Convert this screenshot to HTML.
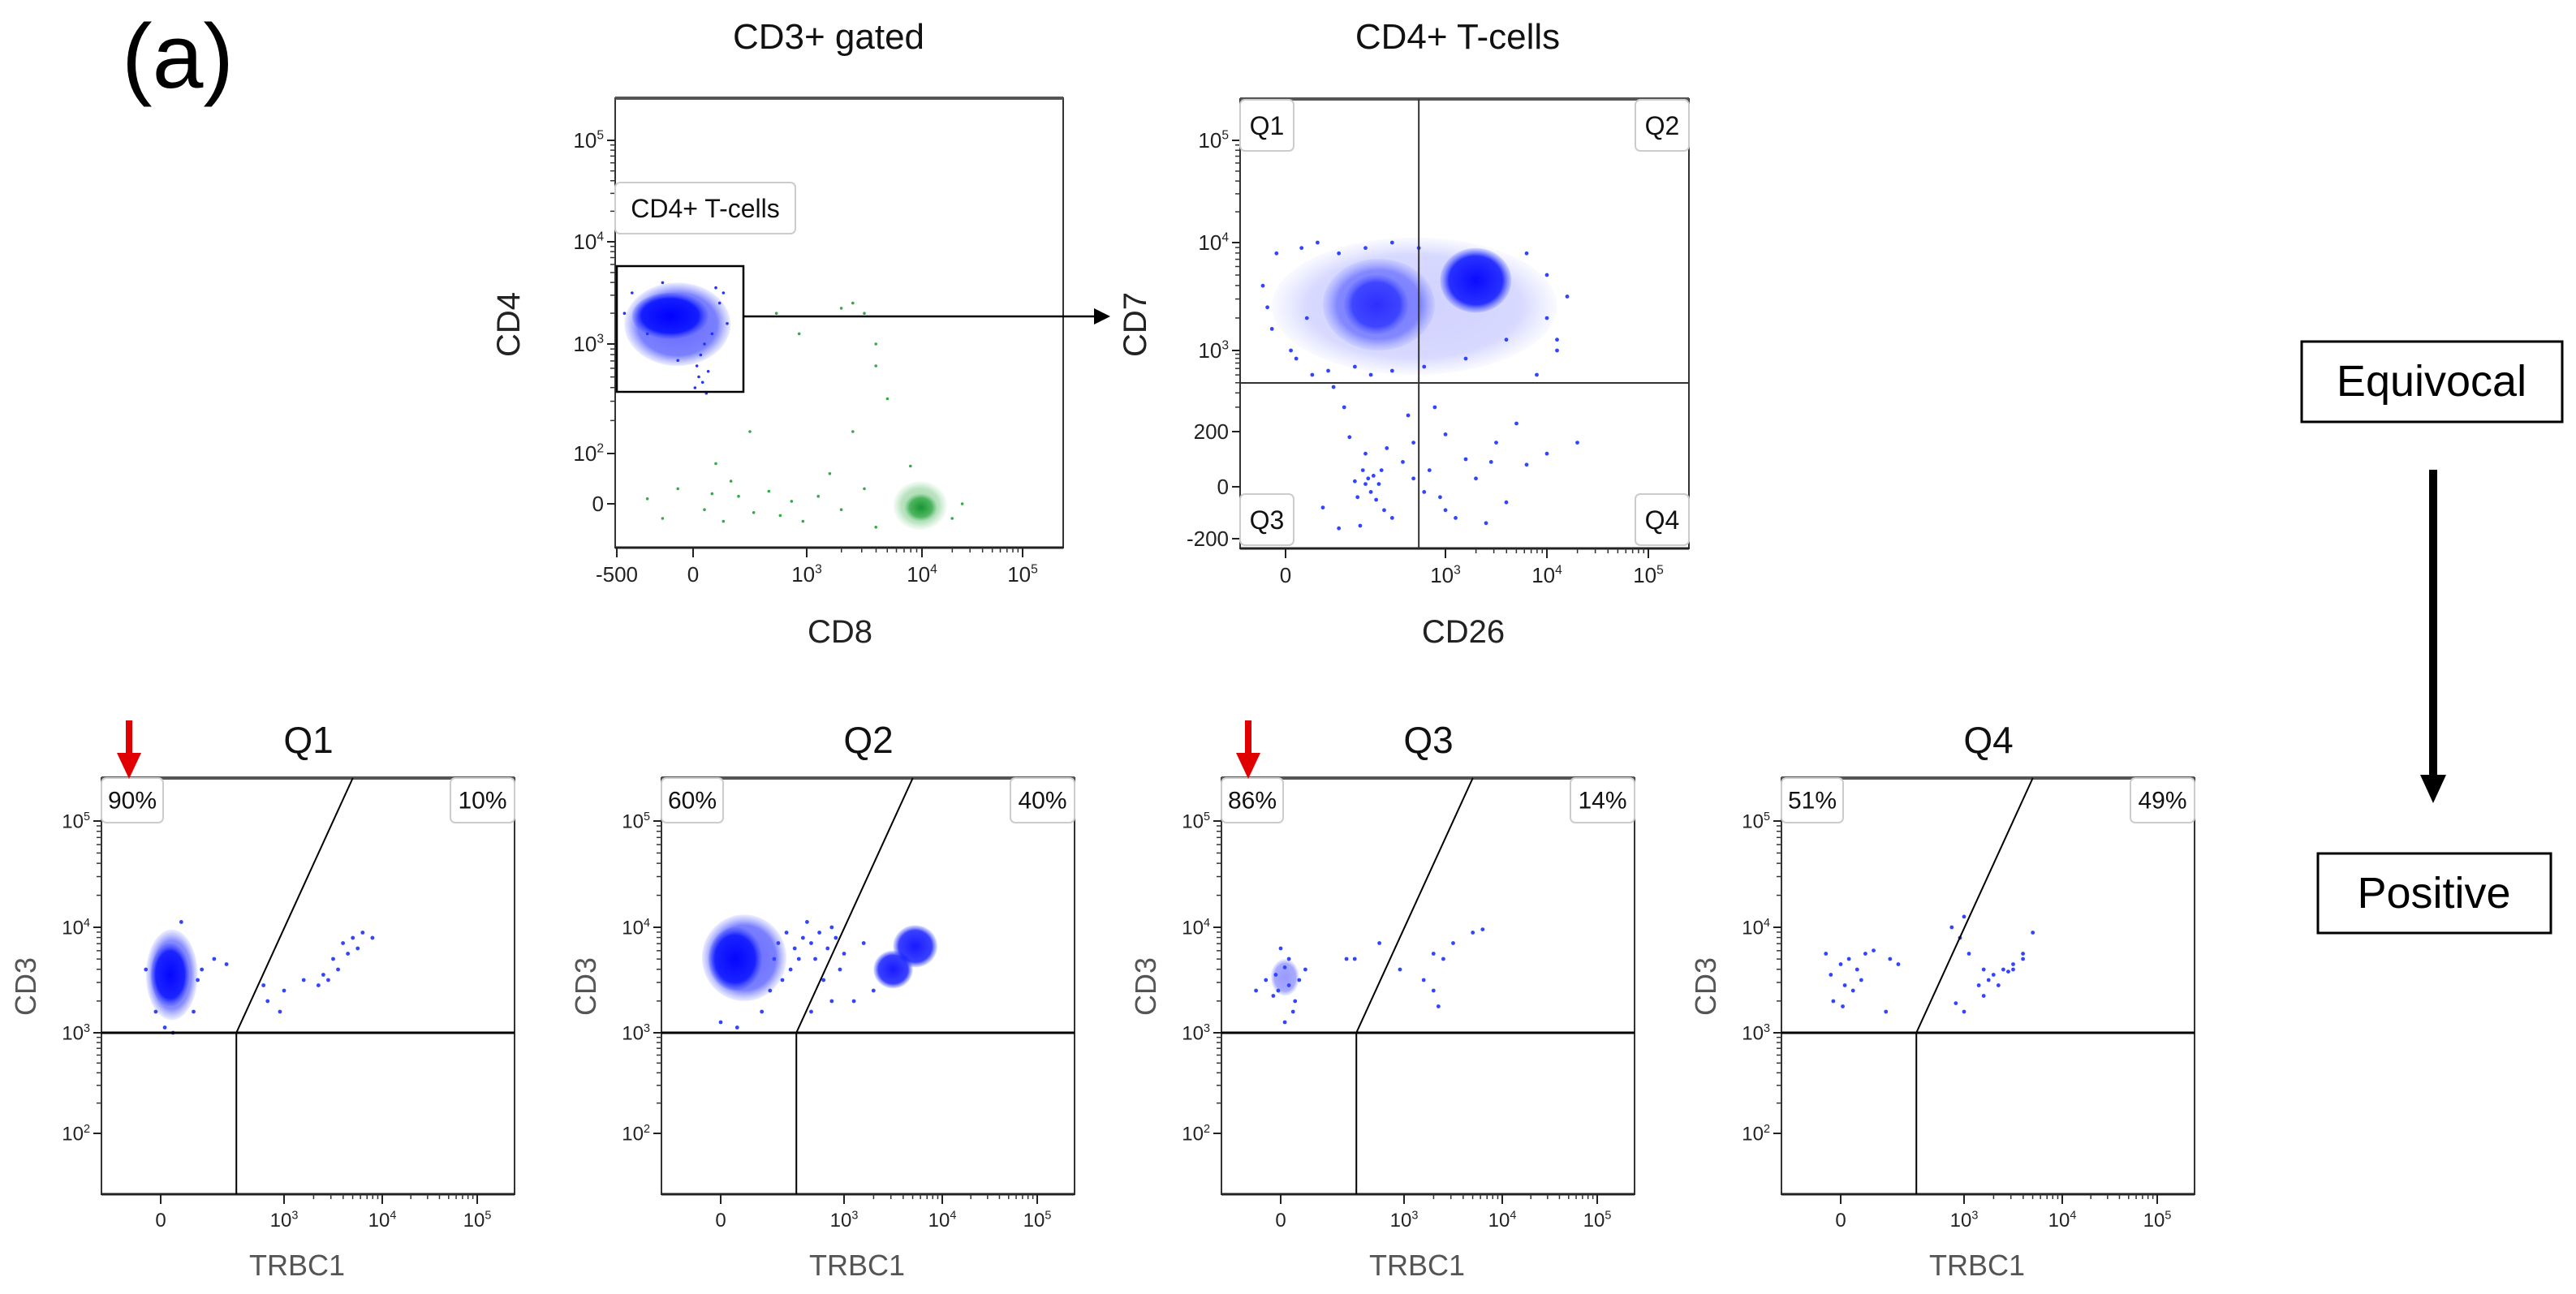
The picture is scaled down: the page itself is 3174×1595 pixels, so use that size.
<!DOCTYPE html>
<html><head><meta charset="utf-8">
<style>
html,body{margin:0;padding:0;background:#fff;}
svg{display:block;font-family:"Liberation Sans",sans-serif;}
</style></head>
<body>
<svg id="fig" width="3174" height="1595" viewBox="0 0 3174 1595" xmlns="http://www.w3.org/2000/svg">
<defs>
<radialGradient id="gBlue"><stop offset="0" stop-color="#0000ff" stop-opacity="1"/><stop offset="0.75" stop-color="#0a14ff" stop-opacity="0.9"/><stop offset="1" stop-color="#3344ff" stop-opacity="0.15"/></radialGradient>
<radialGradient id="gGreen"><stop offset="0" stop-color="#008a20" stop-opacity="1"/><stop offset="0.7" stop-color="#1aa030" stop-opacity="0.75"/><stop offset="1" stop-color="#40c050" stop-opacity="0.1"/></radialGradient>
</defs>
<text x="150" y="108" font-size="112" textLength="138" lengthAdjust="spacingAndGlyphs">(a)</text>
<g>
<rect x="2836" y="421" width="321" height="99" fill="none" stroke="#000" stroke-width="3"/>
<text x="2996" y="488" font-size="54" text-anchor="middle">Equivocal</text></g>
<g>
<rect x="2993" y="579" width="10" height="380" fill="#000"/>
<polygon points="2982,955 3014,955 2998,990" fill="#000"/></g>
<g>
<rect x="2856" y="1052" width="287" height="98" fill="none" stroke="#000" stroke-width="3"/>
<text x="2999" y="1119" font-size="54" text-anchor="middle">Positive</text></g>
</svg>
<script>
// ---------- DATA ----------
const cd8TickLabels = ["-500","0","10^3","10^4","10^5"];
const cd8TickVals = [-0.5,0,3,4,5];
const cd4TickLabels = ["0","10^2","10^3","10^4","10^5"];
const cd4TickVals = [0,2,3,4,5];
const cd4BlobBlue = [[-0.45,0.99,2.8,3.6],[-0.4,0.4,3.05,3.5]];
const cd4BlobGreen = [[3.75,4.25,-0.9,0.9],[3.85,4.15,-0.6,0.4]];
const cd4BluePts = [[0.2,2.9],[0.1,2.8],[-0.1,2.85],[0.3,3.0],[0.5,3.1],[-0.4,3.5],[0.7,3.4],[0.9,3.2],[0.4,2.75],[0.15,2.7],[-0.2,3.6],[0.6,3.55],[0.25,2.65],[-0.3,3.1],[0.05,2.6],[0.35,2.55],[0.8,3.5],[-0.45,3.3]];
const cd4GreenPts = [[-0.3,0.2],[-0.2,-0.5],[-0.1,0.6],[0.3,-0.2],[0.5,0.4],[0.8,-0.6],[1.2,0.3],[1.6,-0.3],[2.0,0.5],[2.3,-0.4],[2.6,0.1],[2.9,-0.6],[3.1,0.3],[3.3,-0.2],[3.5,0.6],[3.6,-0.8],[3.2,1.2],[3.4,3.4],[3.5,3.3],[3.3,3.35],[2.2,3.3],[2.8,3.1],[3.6,2.8],[3.7,2.5],[3.4,2.2],[1.5,2.2],[0.6,1.6],[1.0,0.9],[4.4,0.0],[4.3,-0.5],[3.9,1.5],[3.6,3.0]];
const cd26TickLabels = ["0","10^3","10^4","10^5"];
const cd26TickVals = [0,3,4,5];
const cd7TickLabels = ["-200","0","200","10^3","10^4","10^5"];
const cd7TickVals = [-2,0,2,3,4,5];
const cd7Blobs = [[-0.3,4.1,2.7,4.05,0.18],[0.7,2.8,3.0,3.85,0.45],[1.1,2.3,3.15,3.7,0.6],[2.9,3.65,3.35,3.95,0.95]];
const cd7Pts = [[-0.5,3.6],[-0.3,3.2],[0.2,2.9],[0.5,2.7],[0.9,2.55],[1.3,2.8],[4.0,3.3],[4.1,3.0],[3.9,2.7],[1.2,1.8],[1.5,1.2],[1.8,0.6],[1.3,0.2],[1.7,-0.5],[2.0,-1.2],[1.4,-1.5],[1.9,1.4],[2.2,0.9],[2.4,1.6],[2.6,-0.2],[3.0,1.9],[3.2,1.0],[3.3,0.3],[3.6,-0.6],[3.5,1.6],[3.8,0.8],[3.4,-1.4],[4.0,1.2],[1.6,-0.2],[1.65,0.4],[1.75,0.1],[2.8,2.3],[2.3,2.2],[1.1,2.3],[0.7,-0.8],[3.0,-0.9],[2.7,0.6],[1.0,-1.6],[4.3,1.6],[3.7,2.1],[-0.2,3.9],[0.3,3.95],[0.6,4.0],[1.0,3.9],[1.5,3.95],[2.0,4.0],[2.5,3.95],[3.8,3.9],[4.0,3.7],[4.2,3.5],[-0.4,3.4],[0.1,3.0],[0.4,3.3],[0.8,2.75],[1.6,2.7],[2.0,2.75],[2.6,2.8],[3.2,2.9],[3.6,3.1],[4.1,3.1],[1.45,0.6],[1.55,0.3],[1.5,0.1],[1.35,-0.4],[1.85,-0.9],[2.4,0.3],[2.9,-0.4],[3.1,-1.2],[3.45,0.9]];
const trbcTickLabels = ["0","10^3","10^4","10^5"];
const trbcTickVals = [0,3,4,5];
const cd3TickLabels = ["10^2","10^3","10^4","10^5"];
const cd3TickVals = [2,3,4,5];
const qTitles = ["Q1","Q2","Q3","Q4"];
const qNegPct = ["90%","60%","86%","51%"];
const qPosPct = ["10%","40%","14%","49%"];
const qBlobs = [
  [[-0.3,0.9,3.12,3.98,0.55],[-0.2,0.7,3.25,3.85,0.95]],
  [[-0.38,1.6,3.3,4.12,0.6],[-0.25,1.0,3.4,4.0,0.95],[3.3,3.7,3.42,3.78,0.9],[3.5,3.95,3.62,4.02,0.9]],
  [[-0.2,0.45,3.35,3.7,0.4]],
  []
];
const qPts = [
  [[1.0,3.6],[1.3,3.7],[1.6,3.65],[2.5,3.45],[3.0,3.4],[3.2,3.5],[3.4,3.55],[3.5,3.7],[3.6,3.85],[3.7,3.9],[3.8,3.95],[3.9,3.9],[3.75,3.8],[3.55,3.6],[3.45,3.5],[2.9,3.2],[2.6,3.3],[0.5,4.05],[0.3,3.0],[0.8,3.2],[-0.3,3.6],[0.9,3.5],[3.65,3.75],[3.35,3.45],[0.1,3.05],[-0.1,3.2]],
  [[2.2,3.2],[2.5,3.5],[2.7,3.3],[3.1,3.3],[3.3,3.4],[0.0,3.1],[0.4,3.05],[1.0,3.2],[1.8,3.8],[2.0,3.9],[2.2,3.85],[2.4,3.95],[2.6,3.8],[2.8,3.9],[3.0,3.75],[1.9,3.7],[2.3,3.7],[2.7,4.0],[1.6,3.95],[1.4,3.85],[1.3,3.7],[2.1,4.05],[3.2,3.85],[1.7,3.6],[2.9,3.6],[1.2,3.4],[1.5,3.5]],
  [[-0.5,3.4],[-0.3,3.5],[0.6,3.6],[0.1,3.1],[0.3,3.2],[1.6,3.7],[1.8,3.7],[2.4,3.85],[2.9,3.6],[3.3,3.75],[3.4,3.7],[3.5,3.85],[3.7,3.95],[3.8,3.98],[3.2,3.5],[3.3,3.4],[3.35,3.25],[0.0,3.8],[-0.1,3.55],[0.2,3.45],[0.35,3.3],[-0.15,3.35],[0.1,3.62],[0.45,3.5],[0.2,3.7],[-0.05,3.4]],
  [[-0.3,3.75],[-0.2,3.55],[0.0,3.65],[0.2,3.7],[0.4,3.6],[0.6,3.75],[0.8,3.78],[1.2,3.7],[1.4,3.65],[0.1,3.45],[0.3,3.4],[-0.15,3.3],[0.05,3.25],[0.5,3.5],[1.1,3.2],[2.7,4.0],[3.0,4.1],[2.9,3.9],[3.05,3.75],[3.2,3.6],[3.3,3.55],[3.4,3.6],[3.5,3.65],[3.6,3.75],[3.7,3.95],[3.6,3.7],[3.25,3.5],[3.15,3.45],[3.35,3.45],[3.2,3.35],[2.8,3.28],[3.0,3.2],[3.5,3.6],[3.45,3.58]]
];
// ---------- DRAWING ----------
const NS="http://www.w3.org/2000/svg";
const svg=document.getElementById('fig');
function el(tag,attrs,parent){const e=document.createElementNS(NS,tag);for(const k in attrs)e.setAttribute(k,attrs[k]);(parent||svg).appendChild(e);return e;}
function interp(anch,u){for(let i=0;i<anch.length-1;i++){const a=anch[i],b=anch[i+1];if(u<=b[0]||i===anch.length-2){return a[1]+(u-a[0])*(b[1]-a[1])/(b[0]-a[0]);}}}
function label(g,x,y,txt,size,anchor){
  const t=el('text',{x:x,y:y,'font-size':size,'text-anchor':anchor,fill:'#222'},g);
  if(txt.indexOf('^')>=0){const p=txt.split('^');const a=document.createElementNS(NS,'tspan');a.textContent=p[0];t.appendChild(a);const b=document.createElementNS(NS,'tspan');b.setAttribute('font-size',size*0.6);b.setAttribute('dy',-size*0.4);b.textContent=p[1];t.appendChild(b);}
  else t.textContent=txt;
  return t;
}
function panel(cfg){
  const g=el('g',{});
  
  
  const X=u=>interp(cfg.xa,u), Y=u=>interp(cfg.ya,u);
  el('rect',{x:cfg.L,y:cfg.T,width:cfg.R-cfg.L,height:cfg.B-cfg.T,fill:'#fff',stroke:'#333','stroke-width':2},g);
  el('line',{x1:cfg.L,y1:cfg.T,x2:cfg.R,y2:cfg.T,stroke:'#555','stroke-width':4},g);
  el('line',{x1:cfg.L,y1:cfg.B,x2:cfg.R,y2:cfg.B,stroke:'#222','stroke-width':3},g);
  const xt=el('g',{},g);
  cfg.xv.forEach((v,i)=>{const x=X(v);el('line',{x1:x,y1:cfg.B,x2:x,y2:cfg.B+12,stroke:'#222','stroke-width':2},xt);label(xt,x,cfg.B+cfg.tlo,cfg.xl[i],cfg.tfs,'middle');
    for(let k=2;k<10;k++){if(v>=3&&v<5){const xm=X(v+Math.log10(k));el('line',{x1:xm,y1:cfg.B,x2:xm,y2:cfg.B+6,stroke:'#333','stroke-width':1.5},xt);}}});
  const yt=el('g',{},g);
  cfg.yv.forEach((v,i)=>{const y=Y(v);el('line',{x1:cfg.L-10,y1:y,x2:cfg.L,y2:y,stroke:'#222','stroke-width':2},yt);label(yt,cfg.L-14,y+cfg.tfs*0.35,cfg.yl[i],cfg.tfs,'end');
    for(let k=2;k<10;k++){if(v>=2&&v<5){const ym=Y(v+Math.log10(k));el('line',{x1:cfg.L-6,y1:ym,x2:cfg.L,y2:ym,stroke:'#333','stroke-width':1.5},yt);}}});
  const xlab=el('text',{x:cfg.xlx,y:cfg.xly,'font-size':cfg.afs,'text-anchor':'middle',fill:cfg.acol},g);xlab.textContent=cfg.xlab;
  
  const ylab=el('text',{x:cfg.ylx,y:cfg.yly,'font-size':cfg.afs,'text-anchor':'middle',fill:cfg.acol,transform:`rotate(-90 ${cfg.ylx} ${cfg.yly})`},g);ylab.textContent=cfg.ylab;
  
  return {g,X,Y};
}
function blob(p,b,grad,op){
  const x0=p.X(b[0]),x1=p.X(b[1]),y0=p.Y(b[2]),y1=p.Y(b[3]);
  const e=el('ellipse',{cx:(x0+x1)/2,cy:(y0+y1)/2,rx:Math.abs(x1-x0)/2,ry:Math.abs(y1-y0)/2,fill:`url(#${grad})`,opacity:op},p.g);
  
  
}
function dots(p,pts,col,r){pts.forEach(q=>{const c=el('circle',{cx:p.X(q[0]),cy:p.Y(q[1]),r:r,fill:col},p.g);
  
  });}
function title(x,y,txt,size,name){const t=el('text',{x:x,y:y,'font-size':size,'text-anchor':'middle',fill:'#111'});t.textContent=txt;
  }
function tag(g,x,y,w,h,txt,size){const r=el('rect',{x:x,y:y,width:w,height:h,rx:6,fill:'#fff',stroke:'#ccc','stroke-width':2},g);
  const t=el('text',{x:x+w/2,y:y+h*0.68,'font-size':size,'text-anchor':'middle',fill:'#111'},g);t.textContent=txt;
  }

title(1021,60,"CD3+ gated",44,'title-cd3-gated');
const p1=panel({name:'cd8-cd4-plot',L:758,T:121,R:1310,B:675,
  xa:[[-0.5,760],[0,854],[3,994],[4,1136],[5,1260],[5.5,1310]],
  ya:[[-1.5,675],[0,621],[2,559],[3,424],[4,298],[5,173],[5.4,121]],
  xv:cd8TickVals,xl:cd8TickLabels,yv:cd4TickVals,yl:cd4TickLabels,tfs:26,tlo:42,
  xlab:'CD8',ylab:'CD4',xlx:1035,xly:792,ylx:640,yly:400,afs:40,acol:'#222'});
cd4BlobGreen.forEach((b,i)=>blob(p1,b,'gGreen',i?0.85:0.4));
dots(p1,cd4GreenPts,'#3aa84a',1.8);
cd4BlobBlue.forEach((b,i)=>blob(p1,b,'gBlue',i?1:0.6));
dots(p1,cd4BluePts,'#2233ff',1.8);
el('rect',{x:760,y:328,width:156,height:155,fill:'none',stroke:'#000','stroke-width':2.5},p1.g);
tag(p1.g,758,225,222,63,'CD4+ T-cells',32);
const arr=el('g',{});
el('line',{x1:916,y1:390,x2:1350,y2:390,stroke:'#000','stroke-width':2.5},arr);
el('polygon',{points:'1348,380 1368,390 1348,400',fill:'#000'},arr);

title(1796,60,"CD4+ T-cells",44,'title-cd4-tcells');
const p2=panel({name:'cd26-cd7-plot',L:1528,T:122,R:2081,B:676,
  xa:[[-1,1528],[0,1584],[3,1781],[4,1906],[5,2031],[5.4,2081]],
  ya:[[-2.2,676],[-2,664],[0,600],[2,532],[3,432],[4,299],[5,173],[5.4,122]],
  xv:cd26TickVals,xl:cd26TickLabels,yv:cd7TickVals,yl:cd7TickLabels,tfs:26,tlo:42,
  xlab:'CD26',ylab:'CD7',xlx:1803,xly:792,ylx:1412,yly:400,afs:40,acol:'#222'});
cd7Blobs.forEach(b=>blob(p2,b,'gBlue',b[4]));
dots(p2,cd7Pts,'#3344ff',2.4);
el('line',{x1:p2.X(2.5),y1:122,x2:p2.X(2.5),y2:676,stroke:'#333','stroke-width':2},p2.g);
el('line',{x1:1528,y1:p2.Y(2.6),x2:2081,y2:p2.Y(2.6),stroke:'#333','stroke-width':2},p2.g);
tag(p2.g,1528,123,66,63,'Q1',32);tag(p2.g,2015,123,66,63,'Q2',32);
tag(p2.g,1528,609,66,63,'Q3',32);tag(p2.g,2015,609,66,63,'Q4',32);

qTitles.forEach((qt,i)=>{
  const o=i*690;
  title(380+o,928,qt,46,'title-'+qt.toLowerCase());
  const p=panel({name:'trbc1-cd3-plot-'+qt.toLowerCase(),L:125+o,T:959,R:634+o,B:1472,
    xa:[[-1.2,125+o],[0,198+o],[3,350+o],[4,471+o],[5,588+o],[5.4,634+o]],
    ya:[[1.4,1472],[2,1397],[3,1273],[4,1143],[5,1012],[5.4,959]],
    xv:trbcTickVals,xl:trbcTickLabels,yv:cd3TickVals,yl:cd3TickLabels,tfs:24,tlo:40,
    xlab:'TRBC1',ylab:'CD3',xlx:366+o,xly:1572,ylx:44+o,yly:1216,afs:36,acol:'#555'});
  qBlobs[i].forEach(b=>blob(p,b,'gBlue',b[4]));
  dots(p,qPts[i],'#3344ff',2.4);
  el('line',{x1:p.X(-1.2),y1:p.Y(3),x2:p.X(5.4),y2:p.Y(3),stroke:'#000','stroke-width':3},p.g);
  el('line',{x1:p.X(1.84),y1:p.Y(3),x2:p.X(1.84),y2:1472,stroke:'#000','stroke-width':2},p.g);
  el('line',{x1:p.X(1.84),y1:p.Y(3),x2:p.X(3.7),y2:959,stroke:'#000','stroke-width':2},p.g);
  tag(p.g,125+o,959,76,55,qNegPct[i],30);
  tag(p.g,555+o,959,79,55,qPosPct[i],30);
});
[159,1538].forEach(x=>{const a=el('g',{});
  el('rect',{x:x-4,y:888,width:8,height:45,fill:'#e00000'},a);
  el('polygon',{points:`${x-15},928 ${x+15},928 ${x},960`,fill:'#e00000'},a);});
</script>
</body></html>
